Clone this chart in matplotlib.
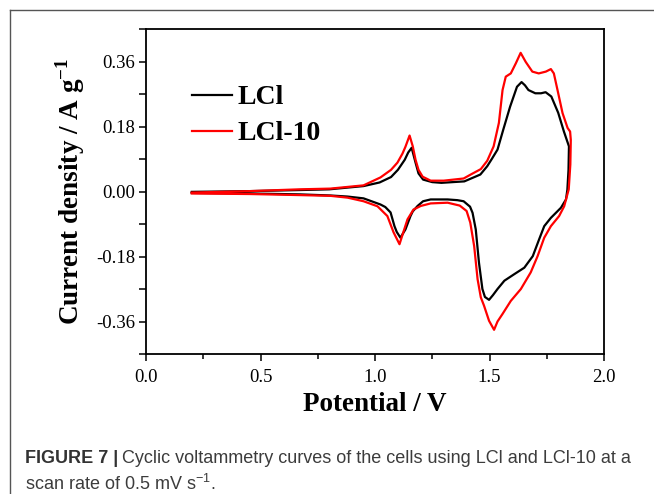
import matplotlib
matplotlib.use("Agg")
import matplotlib.pyplot as plt
from matplotlib.lines import Line2D
from matplotlib.ticker import MultipleLocator, FormatStrFormatter

plt.rcParams['font.family'] = ['Liberation Serif', 'DejaVu Serif']
plt.rcParams['mathtext.fontset'] = 'custom'
plt.rcParams['mathtext.rm'] = 'Liberation Serif'
plt.rcParams['mathtext.bf'] = 'Liberation Serif:bold'
plt.rcParams['mathtext.sf'] = 'Liberation Sans'

# LCl, anodic sweep (0.2 -> 1.85 V)
lcl_v_up = [0.20, 0.45, 0.67, 0.80, 0.95, 1.02, 1.07, 1.10, 1.13, 1.145, 1.16, 1.177,
            1.19, 1.21, 1.25, 1.29, 1.39, 1.46, 1.49, 1.51, 1.535, 1.56, 1.59, 1.62, 1.64,
            1.655, 1.67, 1.70, 1.725, 1.745, 1.77, 1.80, 1.825, 1.847]
lcl_j_up = [-0.001, 0.001, 0.004, 0.006, 0.015, 0.025, 0.040, 0.060, 0.088, 0.108, 0.121, 0.080,
            0.050, 0.033, 0.026, 0.024, 0.028, 0.047, 0.070, 0.090, 0.116, 0.171, 0.235, 0.290, 0.303,
            0.294, 0.281, 0.272, 0.272, 0.275, 0.263, 0.218, 0.166, 0.125]
# LCl, cathodic sweep (1.85 -> 0.2 V)
lcl_v_down = [1.847, 1.845, 1.840, 1.834, 1.812, 1.768, 1.739, 1.717, 1.689, 1.652, 1.608,
              1.565, 1.535, 1.515, 1.498, 1.480, 1.469, 1.454, 1.440, 1.426, 1.415, 1.400,
              1.387, 1.360, 1.317, 1.243, 1.210, 1.186, 1.165, 1.155, 1.133, 1.111, 1.095,
              1.085, 1.068, 1.045, 1.024, 0.95, 0.88, 0.805, 0.674, 0.455, 0.20]
lcl_j_down = [0.125, 0.060, 0.005, -0.022, -0.045, -0.073, -0.096, -0.132, -0.179, -0.211, -0.229,
              -0.247, -0.270, -0.287, -0.300, -0.292, -0.270, -0.197, -0.105, -0.059, -0.042, -0.034,
              -0.027, -0.024, -0.022, -0.022, -0.027, -0.040, -0.055, -0.068, -0.105, -0.128, -0.112,
              -0.096, -0.058, -0.043, -0.036, -0.019, -0.014, -0.011, -0.008, -0.0055, -0.004]

# LCl-10, anodic sweep
lcl10_v_up = [0.20, 0.45, 0.67, 0.805, 0.95, 1.024, 1.07, 1.098, 1.12, 1.133, 1.151, 1.165,
              1.177, 1.19, 1.208, 1.243, 1.30, 1.387, 1.418, 1.462, 1.49, 1.518, 1.541, 1.557,
              1.571, 1.593, 1.615, 1.636, 1.658, 1.687, 1.715, 1.746, 1.768, 1.781, 1.797,
              1.819, 1.841, 1.852, 1.855]
lcl10_j_up = [-0.003, 0.001, 0.006, 0.008, 0.017, 0.039, 0.060, 0.080, 0.105, 0.124, 0.155, 0.125,
              0.088, 0.060, 0.041, 0.030, 0.030, 0.036, 0.047, 0.062, 0.085, 0.125, 0.190, 0.281,
              0.318, 0.327, 0.355, 0.384, 0.359, 0.332, 0.327, 0.332, 0.339, 0.327, 0.281,
              0.217, 0.176, 0.166, 0.143]
# LCl-10, cathodic sweep
lcl10_v_down = [1.855, 1.853, 1.846, 1.826, 1.804, 1.768, 1.739, 1.710, 1.680, 1.637, 1.593,
                1.557, 1.535, 1.520, 1.498, 1.476, 1.462, 1.448, 1.433, 1.416, 1.400, 1.370,
                1.317, 1.243, 1.200, 1.168, 1.142, 1.120, 1.107, 1.081, 1.054, 1.011, 0.95,
                0.88, 0.805, 0.674, 0.455, 0.20]
lcl10_j_down = [0.143, 0.075, 0.006, -0.041, -0.068, -0.096, -0.128, -0.179, -0.224, -0.270, -0.303,
                -0.339, -0.360, -0.383, -0.358, -0.316, -0.293, -0.243, -0.151, -0.086, -0.054, -0.039,
                -0.031, -0.033, -0.040, -0.050, -0.077, -0.120, -0.146, -0.113, -0.068, -0.041, -0.027,
                -0.017, -0.012, -0.010, -0.007, -0.0055]

labels = ['LCl', 'LCl-10']
colors = ['black', '#ff0000']

fig = plt.figure(figsize=(6.54, 4.94), dpi=100)
ax = fig.add_axes([146 / 654, 1 - 354 / 494, 458 / 654, 325 / 494])

l1, = ax.plot(lcl_v_up + lcl_v_down, lcl_j_up + lcl_j_down, color=colors[0], lw=1.6)
l2, = ax.plot(lcl10_v_up + lcl10_v_down, lcl10_j_up + lcl10_j_down, color=colors[1], lw=1.6)

ax.set_xlim(0, 2.0)
ax.set_ylim(-0.45, 0.45)
ax.xaxis.set_major_locator(MultipleLocator(0.5))
ax.xaxis.set_minor_locator(MultipleLocator(0.25))
ax.yaxis.set_major_locator(MultipleLocator(0.18))
ax.yaxis.set_minor_locator(MultipleLocator(0.09))
ax.xaxis.set_major_formatter(FormatStrFormatter('%.1f'))
ax.yaxis.set_major_formatter(FormatStrFormatter('%.2f'))
ax.tick_params(which='both', direction='out', top=False, right=False, width=1.1,
               labelsize=13.5)
ax.tick_params(axis='x', which='major', length=5, pad=6)
ax.tick_params(axis='x', which='minor', length=3.5)
ax.tick_params(axis='y', which='both', length=5, pad=3)
for s in ax.spines.values():
    s.set_linewidth(1.3)

ax.set_xlabel('Potential / V', fontsize=19.5, fontweight='bold', labelpad=4)
ax.set_ylabel(r'Current density / A g$^{\mathbf{-1}}$', fontsize=19.5,
              fontweight='bold', labelpad=6)

ax.legend([l1, l2], labels, loc='upper left', bbox_to_anchor=(0.10, 0.828),
          frameon=False, borderpad=0, borderaxespad=0, handlelength=1.45,
          handletextpad=0.2, labelspacing=0.38,
          prop={'family': 'Liberation Serif', 'weight': 'bold', 'size': 20})

# outer frame of the figure panel
fig.add_artist(Line2D([10 / 654, 1.0], [1 - 10.5 / 494, 1 - 10.5 / 494],
                      transform=fig.transFigure, color='#555555', lw=1))
fig.add_artist(Line2D([10 / 654, 10 / 654], [1 - 10.5 / 494, 0.0],
                      transform=fig.transFigure, color='#555555', lw=1))

# caption
cap_font = ['Liberation Sans', 'DejaVu Sans']
cap_size = 13.0
t1 = fig.text(25 / 654, 1 - 463 / 494, 'FIGURE 7 |', fontsize=cap_size, fontweight='bold',
              family=cap_font, color='#333333', va='baseline')
r = fig.canvas.get_renderer()
bb = t1.get_window_extent(renderer=r)
fig.text(bb.x1 / 654 + 4 / 654, 1 - 463 / 494,
         'Cyclic voltammetry curves of the cells using LCl and LCl-10 at a',
         fontsize=cap_size, family=cap_font, color='#3c3c3c', va='baseline')
fig.text(25 / 654, 1 - 490 / 494, r'scan rate of 0.5 mV s$^{\mathsf{-1}}$.',
         fontsize=cap_size, family=cap_font, color='#3c3c3c', va='baseline')

fig.savefig('out.png', dpi=100)
